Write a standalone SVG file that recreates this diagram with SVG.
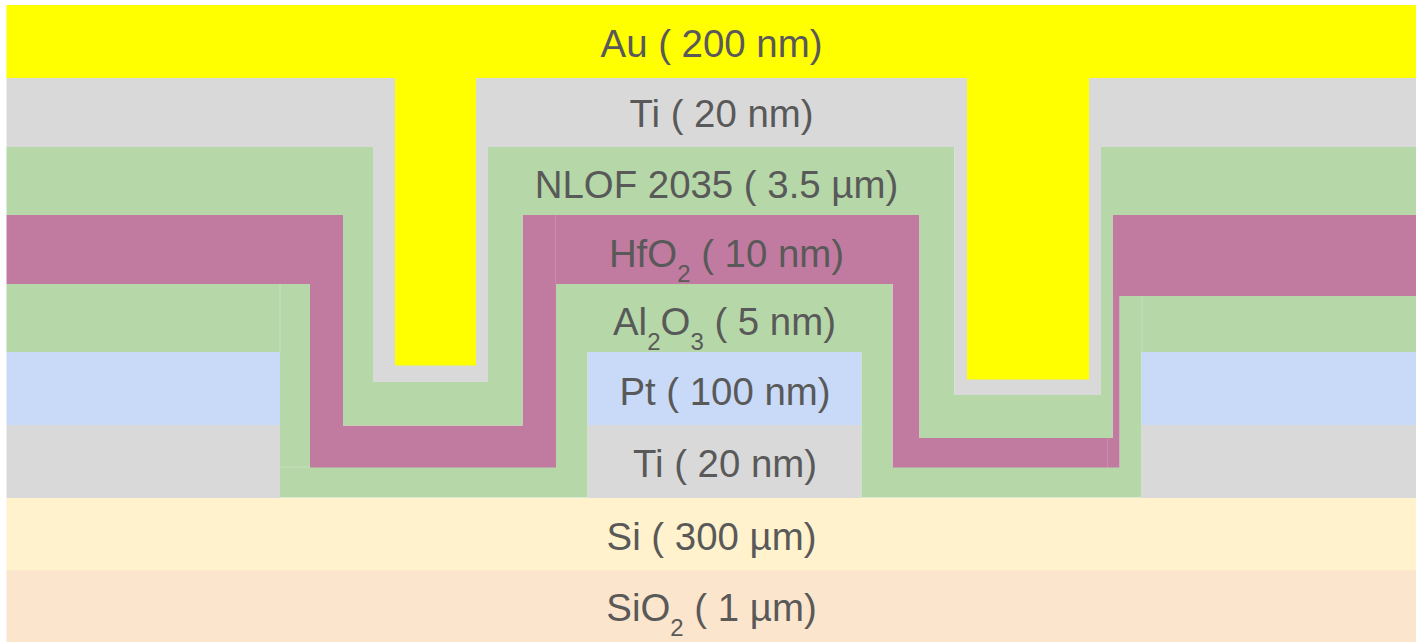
<svg xmlns="http://www.w3.org/2000/svg" width="1424" height="642" viewBox="0 0 1424 642">
<style>
.lbl{font-family:"Liberation Sans",Arial,sans-serif;font-size:38.4px;fill:#595959;text-anchor:middle}
.sub{font-size:24px}
.seam{stroke-width:1;fill:none}
</style>
<rect width="1424" height="642" fill="#ffffff"/>
<g id="sio2"><rect x="6.5" y="570" width="1409.5" height="72" fill="#fce5cd"/></g>
<g id="si"><rect x="6.5" y="498" width="1409.5" height="72" fill="#fff2cc"/></g>
<g id="ti-lower" fill="#d9d9d9"><rect x="6.5" y="425" width="274" height="73"/><rect x="587.5" y="425" width="274" height="73"/><rect x="1141.5" y="425" width="274.5" height="73"/></g>
<g id="pt" fill="#c9daf8"><rect x="6.5" y="352" width="274" height="73"/><rect x="587.5" y="352" width="274" height="73"/><rect x="1141.5" y="352" width="274.5" height="73"/></g>
<g id="al2o3"><path fill="#b6d7a8" d="M6.5 284H310V467H556V284H892V467H1119.5V296H1416V352H1141.5V497.5H861.5V352H587.5V497.5H280V352H6.5Z"/></g>
<g id="hfo2"><path fill="#c27ba0" d="M6.5 215H343V425.500H522.500V215H919.500V438H1112.500V215H1416V296H1119.500V467.500H892.500V284H556V467.500H310V284H6.5Z"/></g>
<g id="nlof"><path fill="#b6d7a8" d="M6.500 147H373V382H488V147H954.500V395H1101V147H1416V215H1112.500V438H919.500V215H522.500V425.500H343V215H6.500Z"/></g>
<g id="ti-upper"><path fill="#d9d9d9" d="M6.500 78H1416V147H1101V395H954.500V147H488V382H373V147H6.500Z"/></g>
<g id="au"><path fill="#ffff00" d="M6.500 5H1416V78H1089V379.500H967V78H476V365.500H395V78H6.500Z"/></g>
<g id="seams">
<path class="seam" stroke="#c7e0bb" d="M280 284V352M280 467H310M1142 296V352"/>
<path class="seam" stroke="#cb8cad" d="M555.500 215V284M1107.500 438V467"/>
</g>
<g id="labels">
<text class="lbl" x="711.500" y="57">Au ( 200 nm)</text>
<text class="lbl" x="721.500" y="127">Ti ( 20 nm)</text>
<text class="lbl" x="716.500" y="197.500">NLOF 2035 ( 3.5 µm)</text>
<text class="lbl" x="726.500" y="267">HfO<tspan class="sub" dy="15">2</tspan><tspan dy="-15"> ( 10 nm)</tspan></text>
<text class="lbl" x="724.500" y="334.500">Al<tspan class="sub" dy="15">2</tspan><tspan dy="-15">O</tspan><tspan class="sub" dy="15">3</tspan><tspan dy="-15"> ( 5 nm)</tspan></text>
<text class="lbl" x="725" y="405">Pt ( 100 nm)</text>
<text class="lbl" x="725" y="477">Ti ( 20 nm)</text>
<text class="lbl" x="711.500" y="550">Si ( 300 µm)</text>
<text class="lbl" x="711.500" y="621">SiO<tspan class="sub" dy="15">2</tspan><tspan dy="-15"> ( 1 µm)</tspan></text>
</g>
</svg>
